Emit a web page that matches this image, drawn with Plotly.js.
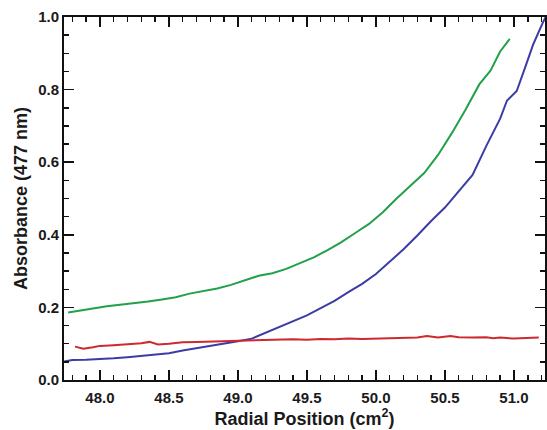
<!DOCTYPE html>
<html>
<head>
<meta charset="utf-8">
<script src="https://cdn.plot.ly/plotly-3.0.1.min.js"></script>
<style>html,body{margin:0;padding:0;background:#fff;}#chart{width:547px;height:430px;}</style>
</head>
<body>
<div id="chart"></div>
<script>
const greenX = [47.77,47.85,47.95,48.05,48.15,48.25,48.35,48.45,48.55,48.65,48.75,48.85,48.95,49.05,49.15,49.25,49.35,49.45,49.55,49.65,49.75,49.85,49.95,50.05,50.15,50.25,50.35,50.45,50.55,50.65,50.75,50.83,50.90,50.97];
const greenY = [0.186,0.190,0.197,0.203,0.207,0.212,0.216,0.222,0.228,0.238,0.245,0.252,0.262,0.275,0.287,0.294,0.306,0.322,0.338,0.358,0.380,0.405,0.430,0.462,0.500,0.535,0.570,0.620,0.680,0.745,0.815,0.852,0.905,0.940];

const blueX = [47.73,47.80,47.90,48.00,48.10,48.20,48.30,48.40,48.50,48.60,48.70,48.80,48.90,49.00,49.10,49.20,49.30,49.40,49.50,49.60,49.70,49.80,49.90,50.00,50.10,50.20,50.30,50.40,50.50,50.60,50.70,50.80,50.90,50.95,51.02,51.08,51.14,51.21,51.23];
const blueY = [0.050,0.055,0.056,0.057,0.060,0.063,0.066,0.070,0.074,0.081,0.087,0.093,0.100,0.107,0.114,0.130,0.147,0.162,0.178,0.198,0.218,0.242,0.265,0.292,0.325,0.360,0.398,0.438,0.475,0.520,0.565,0.645,0.720,0.770,0.796,0.860,0.925,0.985,1.0];

const redX = [47.82,47.88,47.95,48.00,48.10,48.20,48.30,48.36,48.42,48.50,48.60,48.70,48.80,48.90,49.00,49.10,49.20,49.30,49.40,49.50,49.60,49.70,49.80,49.90,50.00,50.10,50.20,50.30,50.37,50.45,50.54,50.60,50.70,50.80,50.85,50.90,51.00,51.10,51.18];
const redY = [0.092,0.086,0.090,0.094,0.096,0.099,0.101,0.105,0.098,0.100,0.104,0.105,0.106,0.107,0.107,0.108,0.110,0.111,0.112,0.111,0.113,0.112,0.114,0.113,0.114,0.115,0.116,0.117,0.121,0.117,0.121,0.118,0.117,0.118,0.115,0.117,0.114,0.116,0.117];

const xTitle = 'Radial Position (cm<sup>2</sup>)';
const yTitle = 'Absorbance (477 nm)';

const font = {family: 'Liberation Sans, Arial, sans-serif', color: '#1a1a1a', weight: 'bold'};

const traces = [
  {x: greenX, y: greenY, mode: 'lines', line: {color: '#22a04a', width: 2}},
  {x: blueX, y: blueY, mode: 'lines', line: {color: '#3c3ca6', width: 2}},
  {x: redX, y: redY, mode: 'lines', line: {color: '#cc2a2e', width: 2}}
];

const axisCommon = {
  showline: true, linecolor: '#111', linewidth: 2, mirror: 'allticks',
  ticks: 'inside', ticklen: 10, tickwidth: 1.5, tickcolor: '#111',
  showgrid: false, zeroline: false,
  tickfont: Object.assign({size: 15}, font)
};

const layout = {
  width: 547, height: 430,
  margin: {l: 64, r: 2, t: 17, b: 50},
  paper_bgcolor: '#fff', plot_bgcolor: '#fff',
  showlegend: false,
  xaxis: Object.assign({}, axisCommon, {
    range: [47.74, 51.225], tick0: 48, dtick: 0.5, tickformat: '.1f',
    ticklabelstandoff: 3,
    minor: {dtick: 0.1, ticks: 'inside', ticklen: 5, tickwidth: 1.5, tickcolor: '#111'},
    title: {text: xTitle, font: Object.assign({size: 18}, font), standoff: 4}
  }),
  yaxis: Object.assign({}, axisCommon, {
    range: [0, 1], tick0: 0, dtick: 0.2, tickformat: '.1f',
    minor: {dtick: 0.05, ticks: 'inside', ticklen: 5, tickwidth: 1.5, tickcolor: '#111'},
    title: {text: yTitle, font: Object.assign({size: 18}, font), standoff: 6}
  })
};

Plotly.newPlot('chart', traces, layout, {displayModeBar: false, staticPlot: true});
</script>
</body>
</html>
